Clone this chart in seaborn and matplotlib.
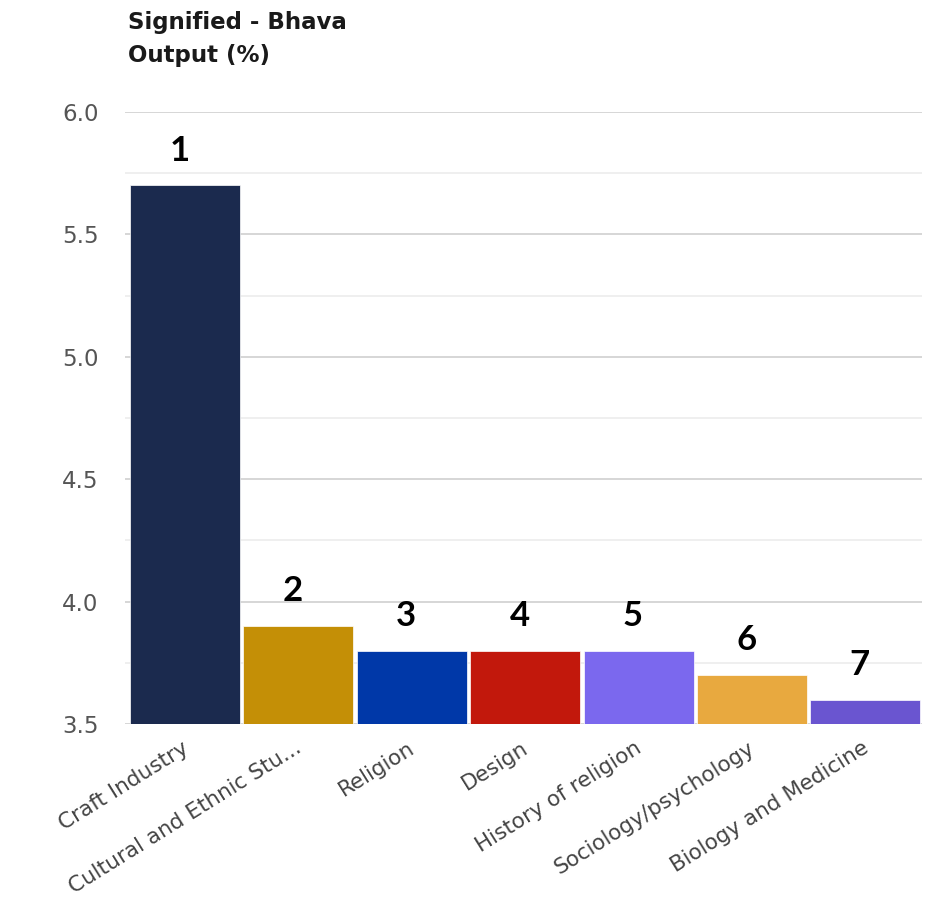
import numpy as np
import pandas as pd
import matplotlib
matplotlib.use('Agg')
import matplotlib.pyplot as plt
import matplotlib.transforms as mtransforms
import seaborn as sns

# Chart data
categories = ['Craft Industry', 'Cultural and Ethnic Stu...', 'Religion', 'Design',
              'History of religion', 'Sociology/psychology', 'Biology and Medicine']
values = [5.7, 3.9, 3.8, 3.8, 3.8, 3.7, 3.6]
ranks = ['1', '2', '3', '4', '5', '6', '7']
bar_colors = ['#1B2A4E', '#C48F06', '#0038A8', '#C2180C', '#7B68EE', '#E8A93F', '#6A55D0']
y_ticks = [3.5, 4.0, 4.5, 5.0, 5.5, 6.0]

sns.set_style('white')
plt.rcParams['font.family'] = ['DejaVu Sans']

df = pd.DataFrame({'category': categories, 'value': values})

fig = plt.figure(figsize=(9.28, 9.08), dpi=100)
ax = fig.add_axes([125 / 928, 1 - 724 / 908, (922 - 125) / 928, (724 - 112) / 908])

sns.barplot(data=df, x='category', y='value', hue='category', palette=bar_colors,
            legend=False, width=0.97, saturation=1, ax=ax, zorder=3,
            edgecolor='white', linewidth=0.5)

ax.set_ylim(3.5, 6.0)
ax.set_xlim(-0.53, 6.5)
ax.set_yticks(y_ticks)
ax.set_yticklabels([f'{t:.1f}' for t in y_ticks])
ax.set_yticks(np.arange(3.75, 6.0, 0.5), minor=True)
ax.grid(axis='y', which='major', color='#d0d0d0', linewidth=1.2, zorder=0)
ax.grid(axis='y', which='minor', color='#ececec', linewidth=1.2, zorder=0)
ax.tick_params(axis='y', which='both', length=0, pad=19, labelsize=16.5, labelcolor='#555555')
ax.tick_params(axis='x', length=0, pad=10, labelsize=15.5, labelcolor='#444444')
shift = mtransforms.ScaledTranslation(-4 / 100, 0, fig.dpi_scale_trans)
for lbl in ax.get_xticklabels():
    lbl.set_rotation(32)
    lbl.set_ha('right')
    lbl.set_rotation_mode('anchor')
    lbl.set_transform(lbl.get_transform() + shift)
ax.set_xlabel('')
ax.set_ylabel('')
sns.despine(ax=ax, left=True, bottom=True)

for i, (v, r) in enumerate(zip(values, ranks)):
    ax.annotate(r, xy=(i, v), xytext=(-4, 25), textcoords='offset points',
                ha='center', va='center', fontsize=25, fontweight='bold',
                family=['Lato', 'DejaVu Sans'], color='black')

fig.text(128 / 928, 1 - 39 / 908, 'Signified - Bhava\nOutput (%)', ha='left', va='center',
         fontsize=16.5, fontweight='bold', color='#1a1a1a', linespacing=1.55)

fig.savefig('out.png', dpi=100)
